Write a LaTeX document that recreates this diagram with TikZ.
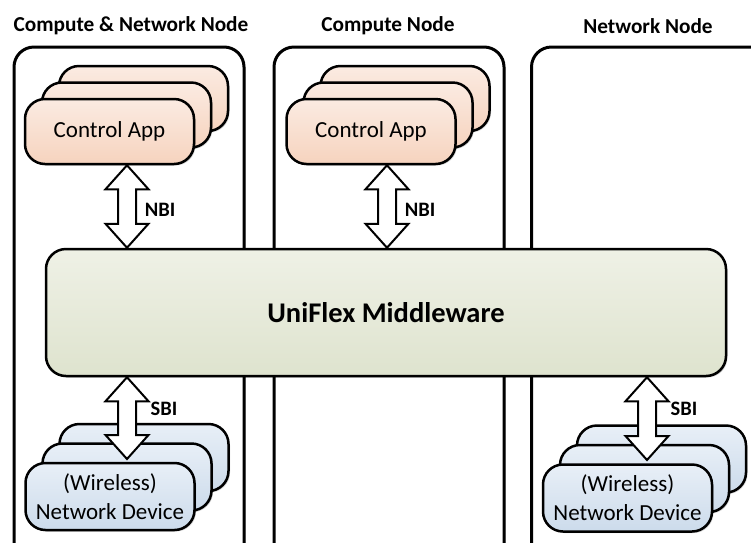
\documentclass[tikz,border=0pt]{standalone}
\usepackage{fontspec}
\setmainfont{Carlito}
\usetikzlibrary{calc,shadows}
\definecolor{appT}{HTML}{FBEBE2}
\definecolor{appB}{HTML}{F6D3BE}
\definecolor{devT}{HTML}{E8EFF7}
\definecolor{devB}{HTML}{CCDBEB}
\definecolor{mwT}{HTML}{EFF1E6}
\definecolor{mwB}{HTML}{DEE3CE}
\tikzset{
  shadowed/.style={drop shadow={shadow xshift=1.5pt,shadow yshift=-1.5pt,opacity=0.18,fill=black}},
  container/.style={draw=black,line width=3pt,rounded corners=20pt,fill=white,shadowed,inner sep=0pt,anchor=north west},
  stackbox/.style={draw=black,line width=2.5pt,rounded corners=20pt,minimum width=169pt,inner sep=0pt,align=center,shadowed,
    font=\fontsize{23}{29}\selectfont},
  appbox/.style={stackbox,top color=appT,bottom color=appB,minimum height=65pt},
  devbox/.style={stackbox,top color=devT,bottom color=devB,minimum height=67pt},
  mwbox/.style={draw=black,line width=2.5pt,rounded corners=20pt,top color=mwT,bottom color=mwB,shadowed,
    minimum width=680pt,minimum height=127pt,inner sep=0pt,font=\bfseries\fontsize{28.5}{33}\selectfont},
  titletext/.style={font=\bfseries\fontsize{21.3}{25}\selectfont},
  iflabel/.style={font=\bfseries\fontsize{20.5}{24}\selectfont},
  ifarrowstyle/.style={draw=black,line width=2pt,fill=white,line join=miter}
}
\newcommand\biarrow[2]{%
  \draw[ifarrowstyle] let \p1=(#1), \p2=(#2) in
    (\x1,\y1) -- (\x1+21.5pt,\y1-24pt) -- (\x1+9pt,\y1-24pt) -- (\x1+9pt,\y2+24pt)
    -- (\x1+21.5pt,\y2+24pt) -- (\x1,\y2) -- (\x1-21.5pt,\y2+24pt) -- (\x1-9pt,\y2+24pt)
    -- (\x1-9pt,\y1-24pt) -- (\x1-21.5pt,\y1-24pt) -- cycle;}
\begin{document}
\begin{tikzpicture}[x=1pt,y=-1pt]
\clip (0,0) rectangle (751,542);
\fill[white] (0,0) rectangle (751,542);
% titles
\node[titletext] (t1) at (131,26) {Compute \& Network Node};
\node[titletext] (t2) at (388,26) {Compute Node};
\node[titletext] (t3) at (648,26) {Network Node};
% containers
\node[container,minimum width=230pt,minimum height=530pt] (c1) at (12.5,45.5) {};
\node[container,minimum width=230pt,minimum height=530pt] (c2) at (272.5,45.5) {};
\node[container,minimum width=240pt,minimum height=530pt] (c3) at (530,45.5) {};
% control apps left
\node[appbox] (a1c) at (143.5,98.5) {};
\node[appbox] (a1b) at (126.5,115) {};
\node[appbox] (a1) at (109.5,131.5) {Control App};
% control apps middle
\node[appbox] (a2c) at (405,98.5) {};
\node[appbox] (a2b) at (388,115) {};
\node[appbox] (a2) at (371,131.5) {Control App};
% devices left
\node[devbox] (d1c) at (144,457.5) {};
\node[devbox] (d1b) at (127,477) {};
\node[devbox] (d1) at (110,496.5) {(Wireless)\\Network Device};
% devices right
\node[devbox] (d3c) at (661.5,459) {};
\node[devbox] (d3b) at (644.5,478.5) {};
\node[devbox] (d3) at (627.5,498) {(Wireless)\\Network Device};
% middleware
\node[mwbox] (mw) at (386,312.5) {UniFlex Middleware};
% interface arrows
\coordinate (n1a) at (127,0 |- a1.south);
\coordinate (n1b) at (127,0 |- mw.north);
\coordinate (n2a) at (387,0 |- a2.south);
\coordinate (n2b) at (387,0 |- mw.north);
\coordinate (s1a) at (127,0 |- mw.south);
\coordinate (s1b) at (127,459);
\coordinate (s3a) at (647,0 |- mw.south);
\coordinate (s3b) at (647,460);
\biarrow{n1a}{n1b}
\biarrow{n2a}{n2b}
\biarrow{s1a}{s1b}
\biarrow{s3a}{s3b}
\node[iflabel] (l1) at (160,210) {NBI};
\node[iflabel] (l2) at (420,210) {NBI};
\node[iflabel] (l3) at (164,409) {SBI};
\node[iflabel] (l4) at (684,409) {SBI};
\end{tikzpicture}
\end{document}
